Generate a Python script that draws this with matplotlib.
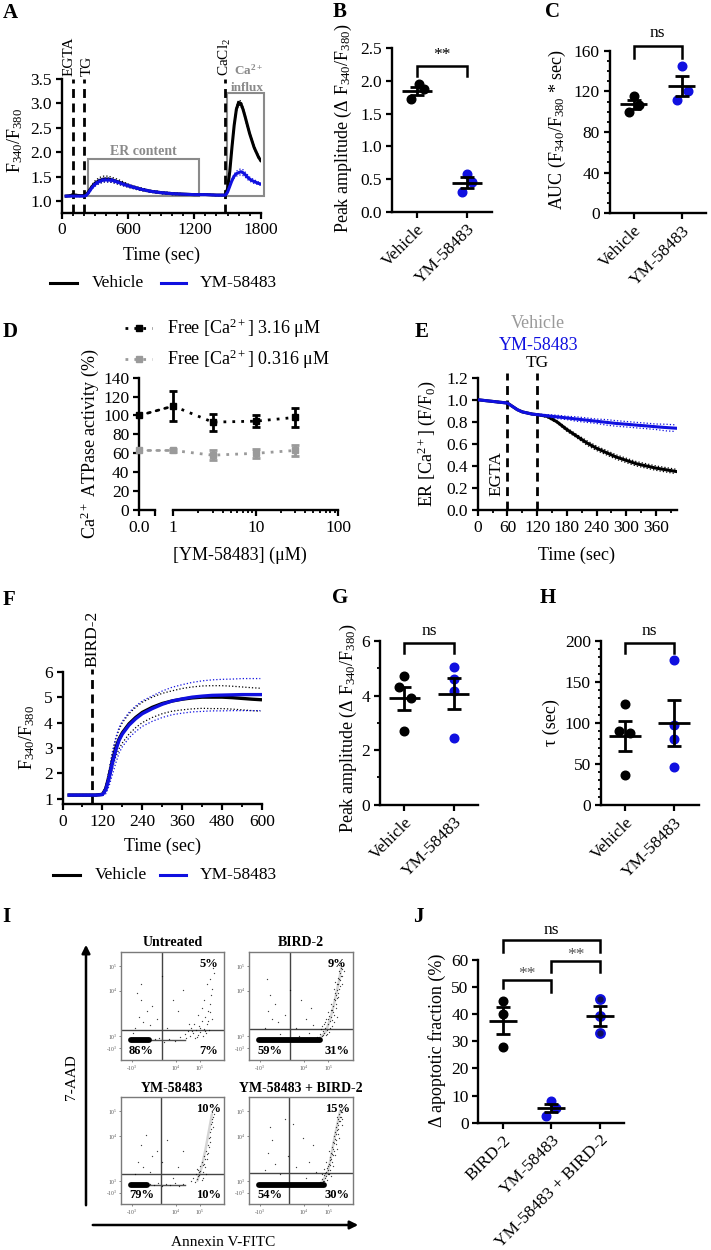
import numpy as np
import matplotlib
matplotlib.use('Agg')
import matplotlib.pyplot as plt
from matplotlib.lines import Line2D
from matplotlib.patches import Rectangle, ConnectionPatch, FancyArrowPatch
from matplotlib.ticker import MultipleLocator, FormatStrFormatter, LogLocator, NullFormatter

plt.rcParams['font.family'] = ['Liberation Serif', 'DejaVu Serif']
plt.rcParams['mathtext.fontset'] = 'custom'
plt.rcParams['mathtext.rm'] = 'Liberation Serif'
plt.rcParams['mathtext.it'] = 'Liberation Serif:italic'
plt.rcParams['mathtext.bf'] = 'Liberation Serif:bold'

# ---------------- data ----------------
# Panel A: Fura-2 ratio traces
A_time = [40, 80, 100, 120, 160, 200, 220, 240, 260, 280, 300, 340, 380, 420, 460, 500, 560, 620, 700, 800,
          900, 1000, 1100, 1200, 1300, 1400, 1480, 1500, 1520, 1540, 1560, 1580, 1600, 1620, 1640, 1660, 1680,
          1700, 1720, 1740, 1760, 1780, 1800]
A_vehicle = [1.10, 1.11, 1.13, 1.12, 1.11, 1.11, 1.12, 1.18, 1.25, 1.31, 1.36, 1.42, 1.45, 1.45, 1.43, 1.40, 1.35,
             1.30, 1.25, 1.20, 1.17, 1.15, 1.14, 1.13, 1.13, 1.12, 1.12, 1.25, 1.60, 2.10, 2.55, 2.88, 3.02, 3.00,
             2.88, 2.72, 2.55, 2.38, 2.24, 2.10, 2.00, 1.90, 1.83]
A_vehicle_sem = [0.01, 0.01, 0.02, 0.02, 0.01, 0.01, 0.01, 0.02, 0.03, 0.04, 0.05, 0.06, 0.06, 0.06, 0.05, 0.05,
                 0.04, 0.03, 0.03, 0.02, 0.02, 0.02, 0.01, 0.01, 0.01, 0.01, 0.01, 0.02, 0.03, 0.04, 0.04, 0.04,
                 0.05, 0.05, 0.04, 0.04, 0.04, 0.03, 0.03, 0.03, 0.03, 0.03, 0.03]
A_ym = [1.10, 1.10, 1.10, 1.10, 1.10, 1.10, 1.11, 1.16, 1.23, 1.29, 1.34, 1.40, 1.43, 1.43, 1.42, 1.39, 1.34,
        1.30, 1.25, 1.20, 1.17, 1.15, 1.14, 1.13, 1.13, 1.12, 1.12, 1.18, 1.30, 1.42, 1.51, 1.56, 1.58, 1.60,
        1.58, 1.54, 1.49, 1.45, 1.42, 1.40, 1.38, 1.36, 1.35]
A_ym_sem = [0.01, 0.01, 0.01, 0.01, 0.01, 0.01, 0.01, 0.02, 0.03, 0.03, 0.04, 0.04, 0.04, 0.04, 0.04, 0.03, 0.03,
            0.03, 0.02, 0.02, 0.02, 0.02, 0.01, 0.01, 0.01, 0.01, 0.01, 0.01, 0.02, 0.03, 0.04, 0.05, 0.06, 0.06,
            0.06, 0.05, 0.05, 0.04, 0.04, 0.04, 0.03, 0.03, 0.03]
A_events = [('EGTA', 100), ('TG', 200), ('CaCl$_2$', 1480)]

# Panel B / C
groups_BC = ['Vehicle', 'YM-58483']
B_vehicle = [1.95, 1.87, 1.72]
B_ym = [0.58, 0.45, 0.30]
C_vehicle = [115, 107, 100]
C_ym = [145, 120, 111]

# Panel D: SERCA activity
D_conc = [0, 1, 3, 10, 30]
D_high = [100, 110, 93, 94, 98]
D_high_err = [0, 16, 9, 6, 10]
D_low = [63, 63, 58, 60, 63]
D_low_err = [0, 2, 5, 5, 6]

# Panel E: ER Ca2+
E_time = [0, 20, 40, 60, 70, 80, 90, 100, 110, 120, 140, 160, 180, 200, 220, 240, 260, 280, 300, 320, 340,
          360, 380, 400]
E_vehicle = [1.0, 0.99, 0.98, 0.97, 0.94, 0.91, 0.89, 0.88, 0.87, 0.865, 0.85, 0.80, 0.73, 0.67, 0.61, 0.56,
             0.52, 0.48, 0.45, 0.42, 0.40, 0.38, 0.365, 0.35]
E_vehicle_sem = [0.0, 0.0, 0.005, 0.005, 0.005, 0.005, 0.005, 0.005, 0.005, 0.005, 0.01, 0.01, 0.015, 0.015,
                 0.02, 0.02, 0.02, 0.02, 0.02, 0.02, 0.02, 0.02, 0.02, 0.02]
E_ym = [1.0, 0.99, 0.98, 0.97, 0.94, 0.91, 0.89, 0.88, 0.87, 0.865, 0.855, 0.845, 0.835, 0.825, 0.815, 0.805,
        0.795, 0.785, 0.778, 0.77, 0.763, 0.755, 0.748, 0.742]
E_ym_sem = [0.0, 0.0, 0.005, 0.005, 0.005, 0.005, 0.005, 0.005, 0.005, 0.005, 0.01, 0.015, 0.015, 0.02, 0.02,
            0.02, 0.025, 0.025, 0.025, 0.025, 0.025, 0.025, 0.03, 0.03]

# Panel F: BIRD-2 response
F_time = [20, 60, 100, 120, 130, 140, 150, 160, 170, 180, 200, 220, 240, 270, 300, 330, 360, 390, 420, 450,
          480, 510, 540, 570, 595]
F_vehicle = [1.15, 1.15, 1.15, 1.18, 1.40, 1.90, 2.50, 3.00, 3.35, 3.60, 3.95, 4.20, 4.40, 4.60, 4.75, 4.85,
             4.92, 4.97, 5.00, 5.00, 5.00, 4.98, 4.95, 4.92, 4.90]
F_vehicle_sem = [0.02, 0.02, 0.02, 0.03, 0.10, 0.20, 0.30, 0.35, 0.38, 0.40, 0.40, 0.40, 0.40, 0.40, 0.40, 0.40,
                 0.42, 0.43, 0.44, 0.45, 0.45, 0.45, 0.45, 0.45, 0.45]
F_ym = [1.15, 1.15, 1.15, 1.17, 1.35, 1.80, 2.40, 2.90, 3.30, 3.55, 3.90, 4.15, 4.35, 4.55, 4.72, 4.85, 4.93,
        5.00, 5.04, 5.07, 5.08, 5.09, 5.10, 5.10, 5.10]
F_ym_sem = [0.02, 0.02, 0.02, 0.03, 0.15, 0.30, 0.45, 0.50, 0.50, 0.50, 0.50, 0.50, 0.50, 0.50, 0.52, 0.54,
            0.56, 0.58, 0.60, 0.61, 0.62, 0.62, 0.63, 0.63, 0.63]
F_bird2_time = 90

# Panel G / H
G_vehicle = [4.7, 4.3, 3.9, 2.7]
G_ym = [5.05, 4.6, 4.15, 2.45]
H_vehicle = [123, 90, 88, 36]
H_ym = [177, 98, 80, 46]

# Panel I: flow cytometry (display units 0-100 on biexponential axes)
I_titles = ['Untreated', 'BIRD-2', 'YM-58483', 'YM-58483 + BIRD-2']
I_pct_ur = ['5%', '9%', '10%', '15%']
I_pct_ll = ['86%', '59%', '79%', '54%']
I_pct_lr = ['7%', '31%', '10%', '30%']
I_xticks = [10.6, 53, 76.5]
I_xticklabels = ['-10$^3$', '10$^4$', '10$^5$']
I_yticks = [11, 22, 64, 87]
I_yticklabels = ['-10$^3$', '10$^3$', '10$^4$', '10$^5$']
I_gate_x = [40, 40, 39, 39]
I_gate_y = [28, 29, 28, 29]
I_dense_band = [(10, 27), (10, 68), (10, 25), (10, 72)]
I_dots_untreated = [(62, 24), (65, 27), (67, 22), (68, 30), (70, 25), (71, 33), (72, 20), (73, 28), (75, 23),
                    (76, 31), (77, 26), (78, 36), (79, 22), (80, 29), (81, 40), (82, 25), (83, 33), (84, 45),
                    (85, 28), (86, 52), (87, 60), (88, 38), (80, 55), (83, 70), (86, 75), (89, 85), (78, 48),
                    (75, 42), (14, 30), (18, 40), (20, 55), (16, 62), (22, 35), (25, 45), (12, 25), (28, 32),
                    (30, 50), (35, 38), (20, 70), (45, 30), (55, 45), (60, 65), (50, 55), (40, 78), (33, 19),
                    (37, 20), (42, 17), (47, 19), (52, 18), (57, 21), (69, 27), (74, 21), (77, 30), (81, 27),
                    (84, 36), (86, 44), (88, 66), (90, 80), (63, 20), (66, 33)]
I_dots_bird2 = [(66, 21), (68, 24), (70, 22), (71, 27), (72, 25), (73, 30), (74, 23), (75, 28), (76, 33),
                (77, 26), (78, 36), (79, 40), (80, 31), (80, 46), (81, 50), (82, 42), (83, 55), (84, 48),
                (84, 60), (85, 65), (86, 58), (86, 70), (87, 75), (88, 68), (88, 80), (89, 85), (90, 78),
                (91, 88), (87, 88), (83, 72), (79, 52), (76, 44), (82, 35), (85, 40), (74, 38), (72, 33),
                (90, 70), (92, 82), (15, 30), (18, 45), (20, 60), (22, 38), (25, 52), (17, 75), (28, 35),
                (35, 42), (45, 30), (50, 55), (55, 38), (60, 48), (40, 65), (62, 32), (58, 25), (48, 22), (30, 24),
                (69, 29), (73, 35), (75, 24), (77, 41), (78, 30), (80, 37), (81, 44), (82, 56), (83, 62),
                (85, 57), (85, 70), (86, 76), (87, 66), (88, 74), (89, 78), (90, 84), (88, 90), (84, 52),
                (79, 46), (76, 38), (71, 23), (70, 31), (86, 62), (82, 66), (87, 82)]
I_dots_ym = [(68, 22), (70, 25), (72, 21), (73, 28), (74, 24), (75, 32), (76, 27), (77, 36), (78, 23), (78, 40),
             (79, 30), (80, 45), (81, 35), (82, 50), (83, 42), (84, 55), (85, 62), (86, 68), (86, 58), (87, 75),
             (88, 80), (89, 72), (88, 86), (90, 84), (84, 48), (80, 38), (76, 30), (82, 28), (14, 28), (17, 40),
             (20, 55), (22, 35), (24, 65), (28, 30), (30, 45), (35, 50), (40, 40), (45, 60), (55, 35), (60, 50),
             (50, 25), (28, 19), (32, 18), (36, 20), (40, 17), (44, 19), (48, 18), (52, 20), (56, 17), (60, 19),
             (75, 26), (77, 31), (79, 37), (81, 42), (83, 47), (85, 54), (86, 63), (87, 70), (88, 77),
             (89, 82), (79, 25), (74, 33)]
I_dots_combo = [(68, 21), (70, 24), (71, 22), (72, 27), (73, 25), (74, 30), (75, 23), (75, 34), (76, 28),
                (77, 38), (78, 32), (78, 44), (79, 48), (80, 40), (80, 54), (81, 58), (82, 50), (82, 64),
                (83, 68), (84, 60), (84, 72), (85, 76), (86, 80), (86, 70), (87, 84), (88, 88), (88, 78),
                (89, 82), (90, 86), (83, 46), (81, 36), (79, 26), (85, 52), (77, 50), (87, 62), (90, 74),
                (74, 40), (72, 33), (15, 32), (18, 48), (22, 60), (25, 38), (20, 72), (30, 28), (38, 45),
                (45, 35), (52, 62), (58, 40), (62, 55), (65, 30), (55, 25), (42, 75), (35, 80),
                (70, 28), (72, 22), (74, 26), (76, 32), (77, 28), (78, 37), (79, 42), (80, 47), (81, 52),
                (82, 57), (83, 61), (84, 66), (85, 69), (86, 74), (87, 78), (88, 82), (89, 86), (86, 66),
                (84, 56), (81, 46), (78, 41), (76, 36), (73, 29), (90, 80), (85, 82)]
I_streaks = [None,
             [(68, 20), (74, 26), (79, 40), (83, 56), (87, 74), (89, 86)],
             [(74, 22), (78, 34), (82, 52), (85, 68), (88, 84)],
             [(70, 20), (76, 30), (79, 44), (82, 60), (85, 74), (88, 88)]]

# Panel J
J_groups = ['BIRD-2', 'YM-58483', 'YM-58483 + BIRD-2']
J_bird2 = [45, 40, 28]
J_ym = [8.0, 5.6, 2.6]
J_combo = [45.5, 39.5, 33]

# ---------------- styling / layout ----------------
W, H = 711, 1250
BLUE = '#1010e0'
GRAY = '#9a9a9a'
BOXGRAY = '#8a8a8a'
fig = plt.figure(figsize=(W / 100, H / 100), dpi=100)


def fx(px):
    return px / W


def fy(py):
    return 1 - py / H


def ftext(px, py, s, **kw):
    kw.setdefault('ha', 'center')
    kw.setdefault('va', 'center')
    fig.text(fx(px), fy(py), s, **kw)


def add_ax(l, t, r, b):
    return fig.add_axes([l / W, 1 - b / H, (r - l) / W, (b - t) / H])


def style(ax, fs=12.5):
    ax.spines['top'].set_visible(False)
    ax.spines['right'].set_visible(False)
    ax.spines['left'].set_linewidth(1.7)
    ax.spines['bottom'].set_linewidth(1.7)
    ax.tick_params(which='major', length=4.5, width=1.6, labelsize=fs, pad=2.5, direction='out')
    ax.tick_params(which='minor', length=2.5, width=1.3)
    ax.patch.set_alpha(0)


def dotplot(ax, groups, offsets, mprops, mean_hw, cap):
    for i, (vals, offs, mp) in enumerate(zip(groups, offsets, mprops)):
        vals = np.asarray(vals, dtype=float)
        xs = i + np.asarray(offs)
        ax.plot(xs, vals, 'o', ms=6.2, zorder=3, clip_on=False, linestyle='none', **mp)
        m = vals.mean()
        s = vals.std(ddof=1) / np.sqrt(len(vals))
        ax.plot([i - mean_hw, i + mean_hw], [m, m], color='k', lw=2.0, zorder=4, solid_capstyle='butt')
        ax.errorbar(i, m, yerr=s, color='k', capsize=cap, elinewidth=2.0, capthick=2.0, zorder=4, fmt='none')


def bracket(ax, x1, x2, ytop, yl1, yl2, txt, ytxt, fs=12.5, color='k'):
    ax.plot([x1, x1, x2, x2], [yl1, ytop, ytop, yl2], color='k', lw=1.8, clip_on=False,
            solid_joinstyle='miter')
    ax.text((x1 + x2) / 2, ytxt, txt, ha='center', va='center', fontsize=fs, clip_on=False, color=color)


def cat_labels(ax, labels, fs=12.5):
    ax.set_xticks(range(len(labels)))
    ax.set_xticklabels(labels, rotation=45, ha='right', rotation_mode='anchor', fontsize=fs)


def fig_legend(py, x_line1, x_text1, x_line2, x_text2):
    fig.add_artist(Line2D([fx(x_line1[0]), fx(x_line1[1])], [fy(py), fy(py)], color='k', lw=2.2))
    ftext(x_text1, py, 'Vehicle', ha='left', fontsize=12.5)
    fig.add_artist(Line2D([fx(x_line2[0]), fx(x_line2[1])], [fy(py), fy(py)], color=BLUE, lw=2.2))
    ftext(x_text2, py, 'YM-58483', ha='left', fontsize=12.5)


dash = (0, (3.2, 2.0))

# panel letters
for letter, (px, py) in {'A': (10, 13), 'B': (340, 12), 'C': (552, 12), 'D': (10, 332), 'E': (422, 332),
                         'F': (9, 600), 'G': (340, 598), 'H': (548, 598), 'I': (6, 917), 'J': (418, 917)}.items():
    ftext(px, py, letter, fontsize=15, fontweight='bold')

# ---------------- Panel A ----------------
axA = add_ax(61.7, 79, 260.7, 212.7)
style(axA)
axA.set_xlim(0, 1800)
axA.set_ylim(0.76, 3.5)
axA.xaxis.set_major_locator(MultipleLocator(600))
axA.xaxis.set_minor_locator(MultipleLocator(100))
axA.set_yticks(np.arange(1.0, 3.51, 0.5))
axA.yaxis.set_major_formatter(FormatStrFormatter('%.1f'))
axA.add_patch(Rectangle((235, 1.10), 1005, 0.77, fill=False, ec=BOXGRAY, lw=1.5, zorder=1))
axA.add_patch(Rectangle((1492, 1.10), 338, 2.11, fill=False, ec=BOXGRAY, lw=1.5, zorder=1, clip_on=False))
axA.text(737, 2.02, 'ER content', color=BOXGRAY, fontsize=10, fontweight='bold', ha='center', va='center')
axA.text(1555, 3.68, 'Ca$^{\\mathbf{2+}}$', color=BOXGRAY, fontsize=9.5, fontweight='bold', ha='left',
         va='center', clip_on=False)
axA.text(1675, 3.31, 'influx', color=BOXGRAY, fontsize=9.5, fontweight='bold', ha='center', va='center',
         clip_on=False)
tA = np.asarray(A_time)
for mean, sem, col in [(A_vehicle, A_vehicle_sem, 'k'), (A_ym, A_ym_sem, BLUE)]:
    mean = np.asarray(mean)
    sem = np.asarray(sem)
    axA.plot(tA, mean, color=col, lw=2.2, zorder=3)
    axA.plot(tA, mean + sem, color=col, lw=0.9, ls=':', zorder=3)
    axA.plot(tA, mean - sem, color=col, lw=0.9, ls=':', zorder=3)
label_shift = {'EGTA': -32, 'TG': 32, 'CaCl$_2$': 0}
for lab, t in A_events:
    axA.vlines(t, 0.76, 3.5, colors='k', linestyles=dash, lw=2.0, zorder=2)
    axA.text(t + label_shift[lab], 3.57, lab, rotation=90, ha='center', va='bottom', fontsize=11,
             clip_on=False)
axA.set_xlabel('Time (sec)', fontsize=13, labelpad=6)
ftext(15, 140, 'F$_{340}$/F$_{380}$', rotation=90, fontsize=13)
fig_legend(283.3, (50, 77), 92, (161, 186), 200)

# ---------------- Panel B ----------------
axB = add_ax(391.7, 48.3, 491.7, 211.7)
style(axB)
axB.set_xlim(-0.5, 1.5)
axB.set_ylim(0, 2.5)
axB.set_yticks(np.arange(0, 2.51, 0.5))
axB.yaxis.set_major_formatter(FormatStrFormatter('%.1f'))
dotplot(axB, [B_vehicle, B_ym], [[0.04, 0.15, -0.11], [0.0, 0.1, -0.1]],
        [dict(color='k'), dict(color=BLUE)], 0.3, 5)
cat_labels(axB, groups_BC)
bracket(axB, 0, 1, 2.23, 2.08, 2.08, '**', 2.40)
ftext(343, 128, 'Peak amplitude (Δ F$_{340}$/F$_{380}$)', rotation=90, fontsize=13)

# ---------------- Panel C ----------------
axC = add_ax(609.5, 50.7, 706, 213.3)
style(axC)
axC.set_xlim(-0.5, 1.5)
axC.set_ylim(0, 160)
axC.yaxis.set_major_locator(MultipleLocator(40))
axC.yaxis.set_minor_locator(MultipleLocator(10))
dotplot(axC, [C_vehicle, C_ym], [[0.0, 0.12, -0.1], [0.0, 0.12, -0.1]],
        [dict(color='k'), dict(color=BLUE)], 0.28, 5)
cat_labels(axC, groups_BC)
bracket(axC, 0, 1, 165, 152.5, 152.5, 'ns', 177)
ftext(557, 130, 'AUC (F$_{340}$/F$_{380}$ * sec)', rotation=90, fontsize=13)

# ---------------- Panel D ----------------
D_top, D_bot = 377.7, 510
axD1 = add_ax(139, D_top, 155, D_bot)
axD2 = add_ax(173.3, D_top, 338.3, D_bot)
for ax in (axD1, axD2):
    style(ax)
    ax.set_ylim(0, 140)
axD1.yaxis.set_major_locator(MultipleLocator(20))
axD1.set_xlim(0, 1)
axD1.set_xticks([0, 1])
axD1.set_xticklabels(['0.0', ''])
axD2.spines['left'].set_visible(False)
axD2.tick_params(axis='y', left=False, labelleft=False)
axD2.set_xscale('log')
axD2.set_xlim(1, 100)
axD2.xaxis.set_major_locator(LogLocator(base=10, numticks=5))
axD2.xaxis.set_minor_locator(LogLocator(base=10, subs=np.arange(2, 10), numticks=20))
axD2.xaxis.set_minor_formatter(NullFormatter())
axD2.set_xticks([1, 10, 100])
axD2.set_xticklabels(['1', '10', '100'])
dot_ls = (0, (1.0, 2.2))
for vals, errs, col in [(D_high, D_high_err, 'k'), (D_low, D_low_err, GRAY)]:
    c = np.asarray(D_conc)
    v = np.asarray(vals)
    e = np.asarray(errs)
    axD1.plot(c[:1], v[:1], 's', color=col, ms=5, clip_on=False, zorder=4)
    axD2.errorbar(c[1:], v[1:], yerr=e[1:], fmt='s', color=col, ms=5, capsize=3, elinewidth=2, capthick=2,
                  clip_on=False, zorder=4)
    axD2.plot(c[1:], v[1:], color=col, lw=2, ls=dot_ls, clip_on=False, zorder=3)
    con = ConnectionPatch(xyA=(c[0], v[0]), coordsA=axD1.transData, xyB=(c[1], v[1]), coordsB=axD2.transData,
                          color=col, lw=2, ls=dot_ls)
    fig.add_artist(con)
for py, col, lab in [(328.3, 'k', 'Free [Ca$^{2+}$] 3.16 μM'), (359.3, GRAY, 'Free [Ca$^{2+}$] 0.316 μM')]:
    fig.add_artist(Line2D([fx(125), fx(152)], [fy(py), fy(py)], color=col, lw=2, ls=dot_ls))
    fig.add_artist(Line2D([fx(138.5)], [fy(py)], color=col, marker='s', ms=5))
    ftext(166.7, py, lab, ha='left', fontsize=13)
ftext(90, 444, 'Ca$^{2+}$ ATPase activity (%)', rotation=90, fontsize=13)
ftext(240, 555, '[YM-58483] (μM)', fontsize=13)

# ---------------- Panel E ----------------
axE = add_ax(477.7, 377.7, 676.7, 510)
style(axE)
axE.set_xlim(0, 402)
axE.set_ylim(0, 1.2)
axE.xaxis.set_major_locator(MultipleLocator(60))
axE.xaxis.set_minor_locator(MultipleLocator(30))
axE.set_yticks(np.arange(0, 1.21, 0.2))
axE.yaxis.set_major_formatter(FormatStrFormatter('%.1f'))
tE = np.asarray(E_time)
for mean, sem, col in [(E_vehicle, E_vehicle_sem, 'k'), (E_ym, E_ym_sem, BLUE)]:
    mean = np.asarray(mean)
    sem = np.asarray(sem)
    axE.plot(tE, mean, color=col, lw=2.2, zorder=3)
    axE.plot(tE, mean + sem, color=col, lw=0.9, ls=':', zorder=3)
    axE.plot(tE, mean - sem, color=col, lw=0.9, ls=':', zorder=3)
axE.vlines([60, 120], 0, 1.24, colors='k', linestyles=dash, lw=2.0, zorder=2, clip_on=False)
axE.text(120, 1.26, 'TG', ha='center', va='bottom', fontsize=12.5, clip_on=False)
axE.text(38, 0.33, 'EGTA', rotation=90, ha='center', va='center', fontsize=12.5)
ftext(538.3, 324, 'Vehicle', color=GRAY, fontsize=13)
ftext(538.3, 346, 'YM-58483', color=BLUE, fontsize=13)
ftext(426.7, 444, 'ER [Ca$^{2+}$] (F/F$_0$)', rotation=90, fontsize=13)
ftext(577, 555, 'Time (sec)', fontsize=13)

# ---------------- Panel F ----------------
axF = add_ax(62.5, 671.7, 262, 804)
style(axF)
axF.set_xlim(0, 600)
axF.set_ylim(0.8, 6)
axF.xaxis.set_major_locator(MultipleLocator(120))
axF.xaxis.set_minor_locator(MultipleLocator(60))
axF.set_yticks([1, 2, 3, 4, 5, 6])
tF = np.asarray(F_time)
for mean, sem, col in [(F_vehicle, F_vehicle_sem, 'k'), (F_ym, F_ym_sem, BLUE)]:
    mean = np.asarray(mean)
    sem = np.asarray(sem)
    axF.plot(tF, mean, color=col, lw=2.4, zorder=3)
    axF.plot(tF, mean + sem, color=col, lw=0.9, ls=':', zorder=3)
    axF.plot(tF, mean - sem, color=col, lw=0.9, ls=':', zorder=3)
axF.vlines(F_bird2_time, 0.8, 6.1, colors='k', linestyles=dash, lw=2.0, zorder=2, clip_on=False)
axF.text(F_bird2_time, 6.2, 'BIRD-2', rotation=90, ha='center', va='bottom', fontsize=12.5, clip_on=False)
axF.set_xlabel('Time (sec)', fontsize=13, labelpad=6)
ftext(27, 737, 'F$_{340}$/F$_{380}$', rotation=90, fontsize=13)
fig_legend(875, (53, 80), 95, (160, 186), 200)

# ---------------- Panel G ----------------
axG = add_ax(380, 641, 478, 804.7)
style(axG)
axG.set_xlim(-0.5, 1.5)
axG.set_ylim(0, 6)
axG.yaxis.set_major_locator(MultipleLocator(2))
axG.yaxis.set_minor_locator(MultipleLocator(1))
dotplot(axG, [G_vehicle, G_ym], [[0.0, -0.12, 0.13, 0.0], [0.0, 0.0, 0.0, 0.0]],
        [dict(color='k'), dict(color=BLUE)], 0.32, 4.7)
cat_labels(axG, groups_BC)
bracket(axG, 0, 1, 5.94, 5.55, 5.55, 'ns', 6.38)
ftext(348.3, 728, 'Peak amplitude (Δ F$_{340}$/F$_{380}$)', rotation=90, fontsize=13)

# ---------------- Panel H ----------------
axH = add_ax(600.5, 641, 698.5, 805)
style(axH)
axH.set_xlim(-0.5, 1.5)
axH.set_ylim(0, 200)
axH.yaxis.set_major_locator(MultipleLocator(50))
axH.yaxis.set_minor_locator(MultipleLocator(10))
dotplot(axH, [H_vehicle, H_ym], [[0.0, -0.13, 0.1, 0.0], [0.0, 0.0, 0.0, 0.0]],
        [dict(color='k'), dict(color=BLUE)], 0.32, 4.7)
cat_labels(axH, groups_BC)
bracket(axH, 0, 1, 198, 185, 185, 'ns', 212)
ftext(551, 722.7, 'τ (sec)', rotation=90, fontsize=13)

# ---------------- Panel I ----------------
flow_boxes = [(120.7, 951.7, 224.3, 1060), (249, 951.7, 352.7, 1060),
              (120.7, 1097.3, 224.3, 1204.3), (249, 1097.3, 352.7, 1204.3)]
flow_dots = [I_dots_untreated, I_dots_bird2, I_dots_ym, I_dots_combo]
for k, (l, t, r, b) in enumerate(flow_boxes):
    ax = add_ax(l, t, r, b)
    ax.set_xlim(0, 100)
    ax.set_ylim(0, 100)
    for s in ax.spines.values():
        s.set_color('#7a7a7a')
        s.set_linewidth(1.0)
    ax.set_xticks(I_xticks)
    ax.set_xticklabels(I_xticklabels)
    ax.set_yticks(I_yticks)
    ax.set_yticklabels(I_yticklabels)
    ax.tick_params(length=1.5, width=0.5, labelsize=4, pad=1, colors='#555555')
    ax.axvline(I_gate_x[k], color='#444444', lw=1.0)
    ax.axhline(I_gate_y[k], color='#444444', lw=1.0)
    x0, x1 = I_dense_band[k]
    ax.plot([x0, x1], [18.5, 18.5], color='k', lw=4.2, solid_capstyle='round', zorder=3)
    ax.plot([x1, 62], [18.3, 18.3], color='#505050', lw=1.0, zorder=2)
    if I_streaks[k] is not None:
        sx, sy = zip(*I_streaks[k])
        ax.plot(sx, sy, color='#777777', lw=1.8, alpha=0.3, solid_capstyle='round', zorder=2)
    dx, dy = zip(*flow_dots[k])
    ax.scatter(dx, dy, s=0.9, color='k', alpha=0.75, linewidths=0, zorder=3)
    ax.text(85, 89, I_pct_ur[k], ha='center', va='center', fontsize=9, fontweight='bold')
    ax.text(20, 8.6, I_pct_ll[k], ha='center', va='center', fontsize=9, fontweight='bold')
    ax.text(85, 8.6, I_pct_lr[k], ha='center', va='center', fontsize=9, fontweight='bold')
    ftext((l + r) / 2, t - 9, I_titles[k], fontsize=10, fontweight='bold')
fig.add_artist(FancyArrowPatch((fx(86), fy(1208)), (fx(86), fy(942)), transform=fig.transFigure,
                               arrowstyle='-|>', mutation_scale=12, lw=1.8, color='k'))
fig.add_artist(FancyArrowPatch((fx(90), fy(1225)), (fx(361), fy(1225)), transform=fig.transFigure,
                               arrowstyle='-|>', mutation_scale=12, lw=1.8, color='k'))
ftext(71.7, 1077, '7-AAD', rotation=90, fontsize=11)
ftext(223.3, 1243, 'Annexin V-FITC', fontsize=11)

# ---------------- Panel J ----------------
axJ = add_ax(478.3, 960, 624.4, 1122.7)
style(axJ)
axJ.set_xlim(-0.5, 2.5)
axJ.set_ylim(0, 60)
axJ.yaxis.set_major_locator(MultipleLocator(10))
dotplot(axJ, [J_bird2, J_ym, J_combo], [[0, 0, 0], [0.0, 0.1, -0.1], [0, 0, 0]],
        [dict(color='k'), dict(color=BLUE), dict(mfc='#10105a', mec=BLUE, mew=1.6)], 0.29, 4.7)
cat_labels(axJ, J_groups)
bracket(axJ, 0, 1, 52.5, 49.8, 48.2, '**', 54.7, color='#555555')
bracket(axJ, 1, 2, 59.6, 55.5, 55.5, '**', 61.7, color='#555555')
bracket(axJ, 0, 2, 67.5, 63.1, 63.1, 'ns', 71.2)
ftext(436.7, 1040, 'Δ apoptotic fraction (%)', rotation=90, fontsize=13)

fig.savefig('out.png', dpi=100)
